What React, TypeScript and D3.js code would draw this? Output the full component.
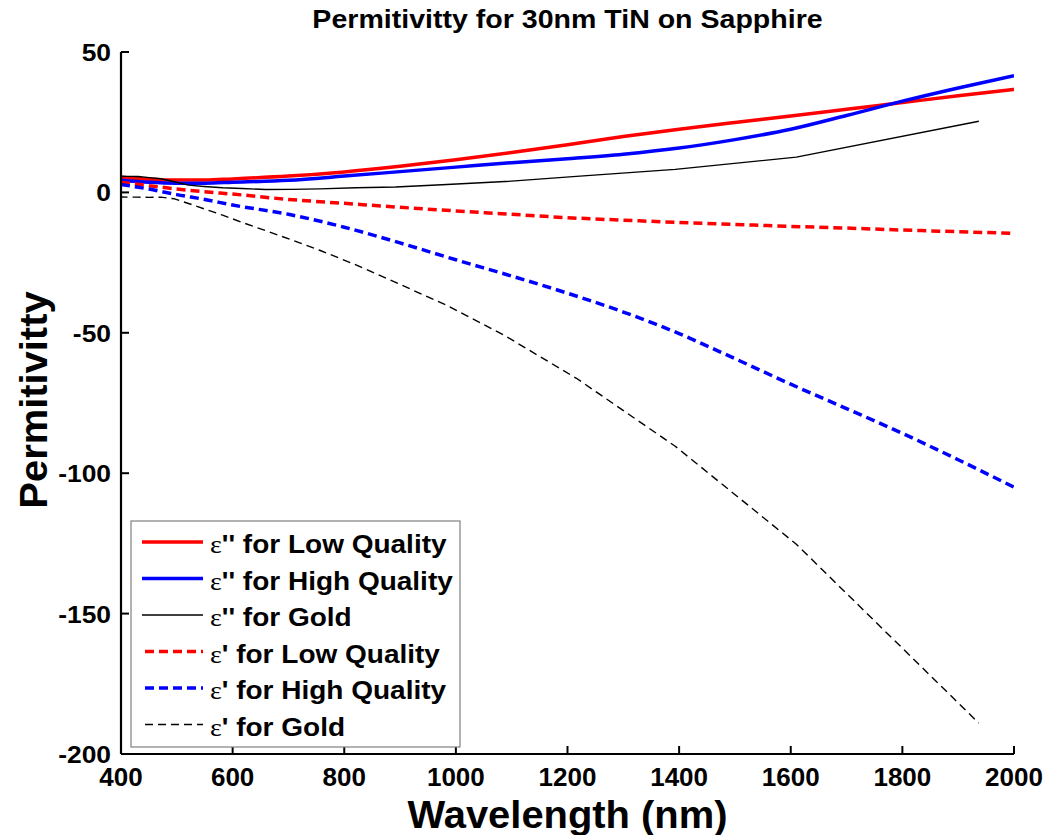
import React from "react";
import * as d3 from "d3";

// ---------- data ----------
const tinWavelength = [400, 450, 500, 550, 600, 700, 800, 900, 1000, 1100, 1200, 1300, 1400, 1500, 1600, 1700, 1800, 1900, 2000];
const epsImagLow = [5.4, 4.7, 4.4, 4.4, 4.8, 5.8, 7.3, 9.3, 11.6, 14.2, 17.0, 19.9, 22.5, 24.9, 27.2, 29.6, 32.0, 34.4, 36.7];
const epsImagHigh = [4.3, 3.6, 3.3, 3.3, 3.6, 4.3, 5.8, 7.4, 9.0, 10.6, 12.0, 13.6, 15.8, 18.8, 22.5, 27.4, 32.5, 37.2, 41.6];
const epsRealLow = [3.6, 2.4, 1.2, 0.2, -0.6, -2.5, -3.9, -5.3, -6.6, -7.8, -9.0, -9.9, -10.7, -11.4, -12.1, -12.7, -13.4, -14.0, -14.6];
const epsRealHigh = [2.8, 1.2, -0.8, -2.5, -4.5, -7.8, -12.4, -18.0, -24.0, -29.8, -35.9, -42.6, -50.3, -59.2, -68.3, -77.0, -85.8, -95.2, -105.0];

const goldWavelength = [397.4, 413.3, 430.5, 450.9, 471.4, 495.9, 520.9, 548.6, 582.1, 616.8, 659.5, 704.5, 756, 821, 892, 984, 1088, 1216, 1393, 1610, 1937];
const goldEpsReal = [-1.65, -1.70, -1.69, -1.76, -1.70, -2.28, -3.95, -5.84, -8.11, -10.66, -13.65, -16.82, -20.61, -25.81, -32.04, -40.27, -51.05, -66.2, -90.4, -125.3, -189.0];
const goldEpsImag = [5.74, 5.72, 5.65, 5.28, 4.84, 3.81, 2.58, 2.11, 1.66, 1.37, 1.04, 1.07, 1.27, 1.63, 1.93, 2.79, 3.86, 5.70, 8.19, 12.56, 25.36];

const xTicks = [400, 600, 800, 1000, 1200, 1400, 1600, 1800, 2000];
const yTicks = [50, 0, -50, -100, -150, -200];

const legendLabels = [
  ["ε", "'' for Low Quality"],
  ["ε", "'' for High Quality"],
  ["ε", "'' for Gold"],
  ["ε", "' for Low Quality"],
  ["ε", "' for High Quality"],
  ["ε", "' for Gold"],
];

const titleText = "Permitivitty for 30nm TiN on Sapphire";
const xLabelText = "Wavelength (nm)";
const yLabelText = "Permitivitty";

// ---------- styles ----------
const RED = "#ff0000";
const BLUE = "#0000ff";
const BLACK = "#000000";
const SANS = "'Liberation Sans', Arial, Helvetica, sans-serif";
const SERIF = "'Liberation Serif', 'Times New Roman', serif";

type Series = { xs: number[]; ys: number[]; color: string; width: number; dash?: string; smooth: boolean };

const series: Series[] = [
  { xs: tinWavelength, ys: epsImagLow, color: RED, width: 3.5, smooth: true },
  { xs: tinWavelength, ys: epsImagHigh, color: BLUE, width: 3.5, smooth: true },
  { xs: goldWavelength, ys: goldEpsImag, color: BLACK, width: 1.4, smooth: false },
  { xs: tinWavelength, ys: epsRealLow, color: RED, width: 3.5, dash: "9,5", smooth: true },
  { xs: tinWavelength, ys: epsRealHigh, color: BLUE, width: 3.5, dash: "9,5", smooth: true },
  { xs: goldWavelength, ys: goldEpsReal, color: BLACK, width: 1.4, dash: "8,5", smooth: false },
];

export default function App() {
  const W = 1049;
  const H = 835;
  const x = d3.scaleLinear().domain([400, 2000]).range([121, 1014]);
  const y = d3.scaleLinear().domain([-200, 50]).range([754, 52]);

  const paths = series.map((s) => {
    const pts = s.xs.map((v, i) => [v, s.ys[i]] as [number, number]);
    const gen = d3
      .line<[number, number]>()
      .x((d) => x(d[0]))
      .y((d) => y(d[1]))
      .curve(s.smooth ? d3.curveMonotoneX : d3.curveLinear);
    return gen(pts) || "";
  });

  const [x0, x1] = x.range();
  const [yb, yt] = y.range();
  const tickLen = 8;

  const legX = 131;
  const legY = 521;
  const legW = 329;
  const legH = 226;
  const rowY = (i: number) => 542 + i * 36.5;

  return (
    <svg
      width={W}
      height={H}
      style={{ position: "absolute", left: 0, top: 0, background: "#fff" }}
      xmlns="http://www.w3.org/2000/svg"
    >
      <rect x={0} y={0} width={W} height={H} fill="#fff" />
      <defs>
        <clipPath id="plotclip">
          <rect x={x0} y={yt} width={x1 - x0} height={yb - yt} />
        </clipPath>
      </defs>

      {/* title */}
      <g transform={`translate(${(x0 + x1) / 2},28) scale(1.12,1)`}>
        <text textAnchor="middle" fontFamily={SANS} fontWeight="bold" fontSize={25.5} fill="#000">
          {titleText}
        </text>
      </g>

      {/* data lines */}
      <g clipPath="url(#plotclip)">
        {series.map((s, i) => (
          <path
            key={i}
            d={paths[i]}
            fill="none"
            stroke={s.color}
            strokeWidth={s.width}
            strokeDasharray={s.dash}
            strokeLinejoin="round"
          />
        ))}
      </g>

      {/* axes */}
      <line x1={x0} y1={yb} x2={x1} y2={yb} stroke="#000" strokeWidth={2.2} />
      <line x1={x0} y1={yb} x2={x0} y2={yt} stroke="#000" strokeWidth={2.2} />
      {xTicks.map((t) => (
        <g key={"xt" + t}>
          <line x1={x(t)} y1={yb} x2={x(t)} y2={yb - tickLen} stroke="#000" strokeWidth={2} />
          <text
            x={x(t)}
            y={786}
            textAnchor="middle"
            fontFamily={SANS}
            fontWeight="bold"
            fontSize={26}
            fill="#000"
          >
            {t}
          </text>
        </g>
      ))}
      {yTicks.map((t) => (
        <g key={"yt" + t}>
          <line x1={x0} y1={y(t)} x2={x0 + tickLen} y2={y(t)} stroke="#000" strokeWidth={2} />
          <g transform={`translate(111,${y(t) + 9}) scale(1.1,1)`}>
            <text textAnchor="end" fontFamily={SANS} fontWeight="bold" fontSize={24} fill="#000">
              {t}
            </text>
          </g>
        </g>
      ))}

      {/* axis labels */}
      <g transform={`translate(${(x0 + x1) / 2},828) scale(1.05,1)`}>
        <text textAnchor="middle" fontFamily={SANS} fontWeight="bold" fontSize={38} fill="#000">
          {xLabelText}
        </text>
      </g>
      <g transform={`translate(47,400) rotate(-90) scale(1.05,1)`}>
        <text textAnchor="middle" fontFamily={SANS} fontWeight="bold" fontSize={38} fill="#000">
          {yLabelText}
        </text>
      </g>

      {/* legend */}
      <rect x={legX} y={legY} width={legW} height={legH} fill="#fff" stroke="#808080" strokeWidth={1.2} />
      {legendLabels.map((lab, i) => {
        const s = series[i];
        const ly = rowY(i);
        return (
          <g key={"lg" + i}>
            <line
              x1={s.dash ? 145 : 142}
              x2={203}
              y1={ly}
              y2={ly}
              stroke={s.color}
              strokeWidth={s.width}
              strokeDasharray={s.dash}
            />
            <g transform={`translate(210,${ly + 11}) scale(1.12,1)`}>
              <text fontSize={25} fill="#000">
                <tspan fontFamily={SERIF} fontWeight="normal" fontSize={25}>
                  {lab[0]}
                </tspan>
                <tspan fontFamily={SANS} fontWeight="bold">
                  {lab[1]}
                </tspan>
              </text>
            </g>
          </g>
        );
      })}
    </svg>
  );
}
